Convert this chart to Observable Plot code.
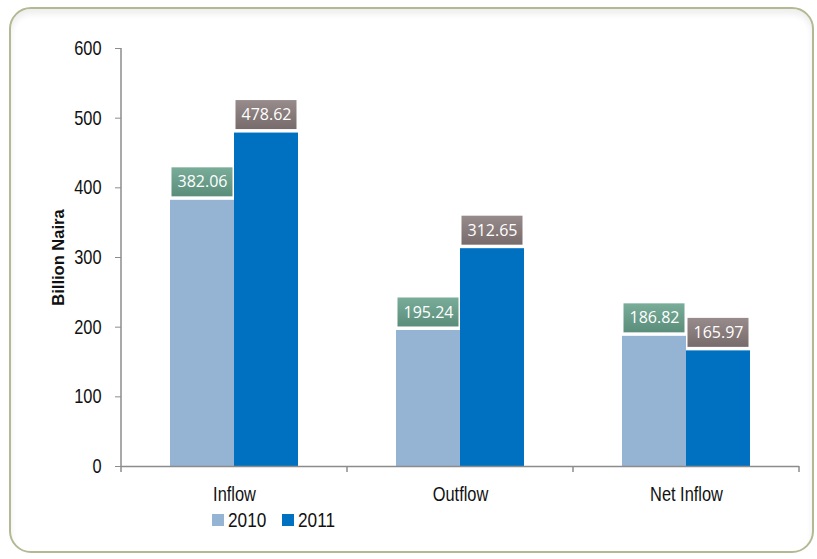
<!DOCTYPE html>
<html>
<head>
<meta charset="utf-8">
<script src="https://cdn.jsdelivr.net/npm/d3@7"></script>
<script src="https://cdn.jsdelivr.net/npm/@observablehq/plot@0.6"></script>
<style>
  body { margin: 0; background: #ffffff; }
  #wrap { position: relative; width: 817px; height: 559px; overflow: hidden;
          font-family: "Liberation Sans", Arial, sans-serif; }
  #frame { position: absolute; left: 9px; top: 7px; width: 805px; height: 546px;
           border: 2px solid #b4b994; border-radius: 22px; box-sizing: border-box;
           box-shadow: inset 0 5px 6px rgba(0,0,0,0.07); }
  #chart { position: absolute; left: 0; top: 0; }
  #legend { position: absolute; left: 212px; top: 508px; display: flex; align-items: center;
            font-size: 21px; color: #111; }
  #legend .item { display: flex; align-items: center; margin-right: 17px; }
  #legend .sw { width: 12px; height: 12px; margin-right: 4px; }
  #legend .txt { display: inline-block; transform: scaleX(0.82); transform-origin: left center; width: 37px; }
</style>
</head>
<body>
<div id="wrap">
  <div id="frame"></div>
  <div id="chart"></div>
  <div id="legend"></div>
</div>
<script>
const categories = ["Inflow", "Outflow", "Net Inflow"];
const years = ["2010", "2011"];
const values2010 = [382.06, 195.24, 186.82];
const values2011 = [478.62, 312.65, 165.97];
const yTicks = [0, 100, 200, 300, 400, 500, 600];
const barColors = ["#95b3d3", "#0070c0"];
const yLabel = "Billion Naira";

const data = categories.flatMap((c, i) => [
  {cat: c, year: years[0], value: values2010[i]},
  {cat: c, year: years[1], value: values2011[i]}
]);
const d2010 = data.filter(d => d.year === years[0]);
const d2011 = data.filter(d => d.year === years[1]);

const sans = '"Liberation Sans", Arial, sans-serif';
const labelFont = '"Open Sans", "Noto Sans", sans-serif';

function boxes(arr, fill) {
  return Plot.barY(arr, {fx: "cat", x: "year", y1: "value", y2: "value",
    insetTop: -32.5, insetBottom: 3.5, insetLeft: 1.5, insetRight: 1.5,
    fill, ariaLabel: "value box"});
}
function labels(arr) {
  return Plot.text(arr, {fx: "cat", x: "year", y: "value", text: d => d.value.toFixed(2),
    dy: -18, fill: "white", fontSize: 16, fontFamily: labelFont});
}

const chart = Plot.plot({
  width: 817, height: 559,
  marginLeft: 121, marginRight: 18, marginTop: 48, marginBottom: 93,
  style: {background: "transparent", fontFamily: sans, color: "#111"},
  fx: {domain: categories, padding: 0, label: null},
  x: {domain: years, paddingInner: 0, paddingOuter: 0.76, axis: null},
  y: {domain: [0, 600], label: null},
  color: {domain: years, range: barColors},
  marks: [
    Plot.barY(data, {fx: "cat", x: "year", y: "value", fill: "year"}),
    Plot.ruleY([0], {stroke: "#8c8c8c", strokeWidth: 1.5}),
    Plot.axisY({ticks: yTicks, tickSize: 6, tickPadding: 14, fontSize: 20, label: null, stroke: "#8c8c8c"}),
    Plot.axisFx({anchor: "bottom", tickSize: 0, tickPadding: 20, fontSize: 20, label: null}),
    Plot.text([yLabel], {fx: () => categories[0], frameAnchor: "left", rotate: -90, dx: -63,
      textAnchor: "middle", lineAnchor: "middle",
      text: d => d, fontWeight: "bold", fontSize: 16.5, fill: "#111", ariaLabel: "ylabel"}),
    boxes(d2010, "url(#g2010)"),
    boxes(d2011, "url(#g2011)"),
    labels(d2010),
    labels(d2011)
  ]
});
document.getElementById("chart").appendChild(chart);

const svg = d3.select(chart);

// condense axis texts to mimic a narrow face
svg.selectAll("g[aria-label] text").each(function() {
  const g = this.closest("g[aria-label]");
  const lab = g ? g.getAttribute("aria-label") : "";
  if (/tick label|ylabel/.test(lab)) {
    const t = this.getAttribute("transform") || "";
    this.setAttribute("transform", t + " scale(0.82,1)");
  }
});

// defs: gradients and shadow
const defs = svg.insert("defs", ":first-child");
function grad(id, c1, c2) {
  const g = defs.append("linearGradient").attr("id", id).attr("x1", 0).attr("y1", 0).attr("x2", 0).attr("y2", 1);
  g.append("stop").attr("offset", "0%").attr("stop-color", c1);
  g.append("stop").attr("offset", "100%").attr("stop-color", c2);
}
grad("g2010", "#79ad9a", "#5a8d7a");
grad("g2011", "#978b8b", "#786b6b");
const f = defs.append("filter").attr("id", "shadow").attr("x", "-20%").attr("y", "-20%").attr("width", "150%").attr("height", "160%");
f.append("feDropShadow").attr("dx", 1.5).attr("dy", 2).attr("stdDeviation", 1.5).attr("flood-color", "#000").attr("flood-opacity", 0.3);
svg.selectAll('g[aria-label="value box"]').attr("filter", "url(#shadow)");

// y axis line and category boundary ticks from the plot's own scales
try {
  const fxs = chart.scale("fx"), ys = chart.scale("y");
  const y0 = ys.apply(0), yTop = ys.apply(600);
  const left = fxs.apply(categories[0]);
  const bw = fxs.bandwidth;
  const g = svg.append("g").attr("stroke", "#8c8c8c").attr("stroke-width", 1.5);
  g.append("line").attr("x1", left).attr("x2", left).attr("y1", yTop).attr("y2", y0 + 6);
  const bounds = categories.map(c => fxs.apply(c)).concat([fxs.apply(categories[categories.length - 1]) + bw]);
  bounds.slice(1).forEach(x => g.append("line").attr("x1", x).attr("x2", x).attr("y1", y0).attr("y2", y0 + 6));
} catch (e) { console.error(e); }

// legend
const legend = d3.select("#legend");
years.forEach((y, i) => {
  const it = legend.append("div").attr("class", "item");
  it.append("div").attr("class", "sw").style("background", barColors[i]);
  it.append("span").attr("class", "txt").text(y);
});
</script>
</body>
</html>
